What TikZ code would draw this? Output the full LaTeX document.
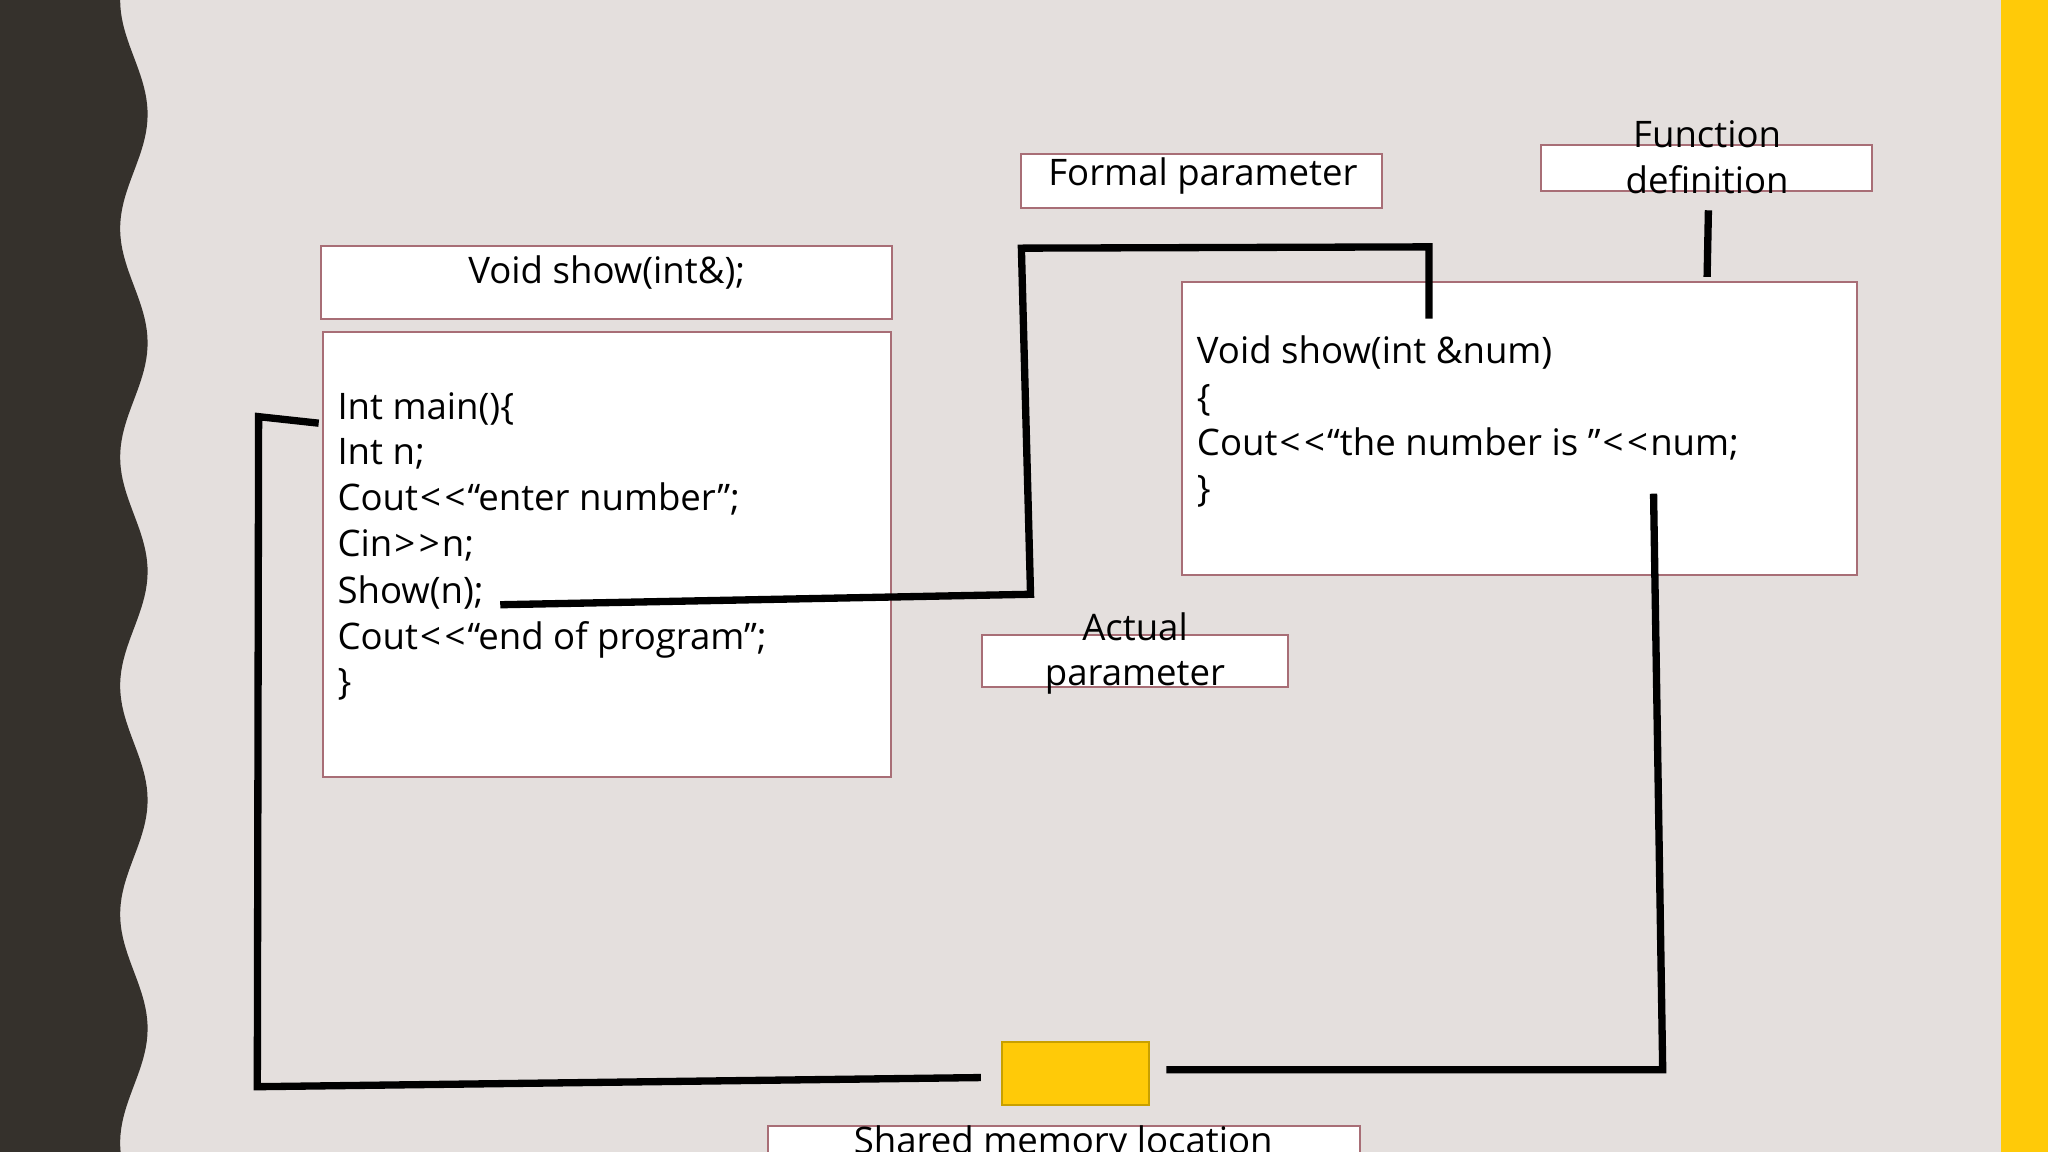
\documentclass[tikz,border=0pt]{standalone}
\usepackage{fontspec}
\setmainfont{Open Sans}[Ligatures=TeXOff]
\newcommand\ltlt{\kern0.8pt<\kern1.4pt<\kern0.8pt}
\newcommand\gtgt{\kern0.8pt>\kern1.4pt>\kern0.8pt}
\definecolor{bg}{RGB}{228,223,221}
\definecolor{dark}{RGB}{53,49,44}
\definecolor{yel}{RGB}{255,202,8}
\definecolor{boxborder}{RGB}{168,110,118}
\definecolor{memborder}{RGB}{200,160,0}
\begin{document}
\begin{tikzpicture}[x=0.5pt,y=-0.5pt,
  box/.style={draw=boxborder, line width=0.75pt, fill=white, inner sep=0pt, outer sep=0pt},
  lbl/.style={inner sep=0pt, font=\fontsize{14}{17.6}\selectfont, anchor=base},
  code/.style={inner sep=0pt, font=\fontsize{14}{17.6}\selectfont, anchor=base west},
  wire/.style={line width=2.8pt, black, line join=miter}]
\useasboundingbox (0,0) rectangle (1568,882);
\clip (0,0) rectangle (1568,882);
\fill[bg] (0,0) rectangle (1568,882);
\fill[dark] (0,0) -- plot[domain=0:882,samples=200] ({102.5-10.5*cos(2.05714*\x)},\x) -- (0,882) -- cycle;
\fill[yel] (1532,0) rectangle (1568,882);

% boxes
\node[box, minimum width=218.5pt, minimum height=28pt] (proto) at (464.5,216) {};
\node[box, minimum width=217.5pt, minimum height=170.5pt] (mainb) at (464.5,424.5) {};
\node[box, minimum width=138pt, minimum height=20.5pt] (formal) at (920,138.5) {};
\node[box, minimum width=126.5pt, minimum height=17.5pt] (fdef) at (1306.5,128.5) {};
\node[box, minimum width=258.5pt, minimum height=112pt] (fbox) at (1163.5,328) {};
\node[box, minimum width=117pt, minimum height=20pt] (actual) at (869,506) {};
\node[draw=memborder, line width=0.75pt, fill=yel, minimum width=56.5pt, minimum height=24pt] (mem) at (823.5,822) {};
\node[box, minimum width=226.5pt, minimum height=21.5pt] (shared) at (814.5,883.5) {};

% texts
\node[lbl] (tproto) at (464.5,217) {Void show(int\&);};
\node[code] (m1) at (258,321) {Int main()\{};
\node[code] (m2) at (258,356) {Int n;};
\node[code] (m3) at (258,391) {Cout\ltlt“enter number”;};
\node[code] (m4) at (258,426) {Cin\gtgt n;};
\node[code] (m5) at (258,462) {Show(n);};
\node[code] (m6) at (258,497) {Cout\ltlt“end of program”;};
\node[code] (m7) at (258,532) {\}};
\node[lbl] (tformal) at (921,142) {Formal parameter};
\node[lbl] (tfd1) at (1307,113) {Function};
\node[lbl] (tfd2) at (1307,148) {definition};
\node[code] (f1) at (916,278) {Void show(int \&num)};
\node[code] (f2) at (916,314) {\{};
\node[code] (f3) at (916,349) {Cout\ltlt“the number is ”\ltlt num;};
\node[code] (f4) at (916,384) {\}};
\node[lbl] (tact1) at (869,490) {Actual};
\node[lbl] (tact2) at (869,525) {parameter};
\node[lbl] (tshared) at (814,883) {Shared memory location};

% connectors
\coordinate (a1) at (383,463);
\coordinate (a2) at (789,455);
\coordinate (a3) at (782,190);
\coordinate (a4) at (1094,189);
\coordinate (a5) at (1094,244);
\draw[wire] (a1) -- (a2) -- (a3) -- (a4) -- (a5);

\coordinate (b1) at (1308,161);
\coordinate (b2) at (1307,212);
\draw[wire] (b1) -- (b2);

\coordinate (c1) at (244,324);
\coordinate (c2) at (198,319);
\coordinate (c3) at (197,832);
\coordinate (c4) at (751,825);
\draw[wire] (c1) -- (c2) -- (c3) -- (c4);

\coordinate (d1) at (1266,378);
\coordinate (d2) at (1273,819);
\coordinate (d3) at (893,819);
\draw[wire] (d1) -- (d2) -- (d3);
\end{tikzpicture}
\end{document}
